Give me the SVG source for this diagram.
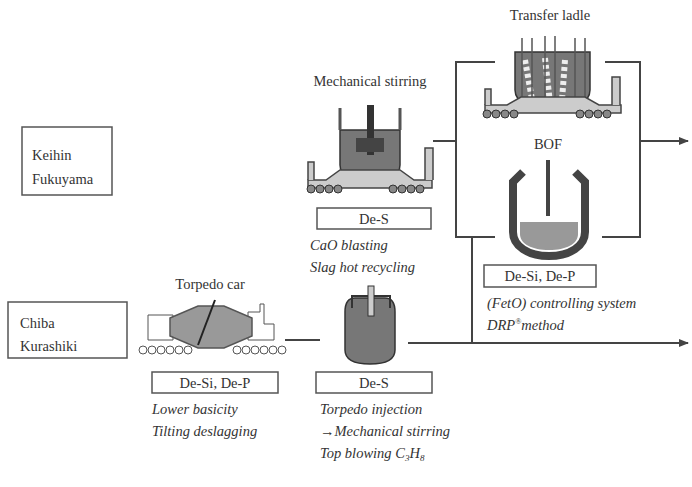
<svg xmlns="http://www.w3.org/2000/svg" width="692" height="487" viewBox="0 0 692 487">
<defs>
<style>
text{font-family:"Liberation Serif",serif;font-size:14.5px;fill:#333}
.i{font-style:italic}
.m{text-anchor:middle}
.box{fill:#fff;stroke:#555;stroke-width:1.5}
.ln{fill:none;stroke:#444;stroke-width:2}
.eq{fill:#777;stroke:#333;stroke-width:1.5}
.lt{fill:#ccc;stroke:#444;stroke-width:1.5}
.wh{fill:#888;stroke:#333;stroke-width:1}
.ow{fill:#fff;stroke:#555;stroke-width:1}
</style>
<marker id="ar" markerWidth="10" markerHeight="8" refX="9" refY="4" orient="auto" markerUnits="userSpaceOnUse"><path d="M0,0L10,4L0,8z" fill="#444"/></marker>
<g id="whl"><circle cx="0" cy="0" r="4" class="wh"/><circle cx="9" cy="0" r="4" class="wh"/><circle cx="18" cy="0" r="4" class="wh"/><circle cx="27" cy="0" r="4" class="wh"/></g>
<g id="owl"><circle cx="0" cy="0" r="4" class="ow"/><circle cx="9" cy="0" r="4" class="ow"/><circle cx="18" cy="0" r="4" class="ow"/><circle cx="27" cy="0" r="4" class="ow"/><circle cx="36" cy="0" r="4" class="ow"/><circle cx="45" cy="0" r="4" class="ow"/></g>
</defs>

<g id="keihin"><rect x="22" y="127" width="90" height="68" class="box"/><text x="32" y="160">Keihin</text><text x="32" y="184">Fukuyama</text></g>
<g id="chiba"><rect x="8" y="302" width="119" height="56" class="box"/><text x="20" y="328">Chiba</text><text x="20" y="351">Kurashiki</text></g>

<g id="torpedo">
<text x="210" y="289" class="m">Torpedo car</text>
<path d="M148,315h25v25h-25z M248,312h12v-8h4v20h10v16h-26z" class="ow"/>
<path d="M170,318l28,-12h26l28,12v18l-28,12h-26l-28,-12z" fill="#999" stroke="#555" stroke-width="1.5"/>
<line x1="215" y1="300" x2="198" y2="345" stroke="#222" stroke-width="2"/>
<use href="#owl" x="143" y="350"/><use href="#owl" x="237" y="350"/>
<rect x="152" y="372" width="126" height="21" class="box"/><text x="215" y="388" class="m">De-Si, De-P</text>
<text x="152" y="414" class="i">Lower basicity</text><text x="152" y="436" class="i">Tilting deslagging</text>
</g>

<g id="ladle-low">
<path d="M345,312c0,-12 5,-14 10,-14h30c5,0 10,2 10,14v38c0,10 -10,14 -25,14s-25,-4 -25,-14z" class="eq"/>
<path d="M352,308v-12h38v12" fill="none" stroke="#333" stroke-width="2"/>
<rect x="368" y="286" width="6" height="30" fill="#ccc" stroke="#333"/>
<rect x="316" y="372" width="116" height="21" class="box"/><text x="374" y="388" class="m">De-S</text>
<text x="320" y="414" class="i">Torpedo injection</text><text x="320" y="436" class="i">→Mechanical stirring</text>
<text x="320" y="458" class="i">Top blowing C<tspan font-size="9" dy="3">3</tspan><tspan dy="-3">H</tspan><tspan font-size="9" dy="3">8</tspan></text>
</g>

<g id="mech">
<text x="370" y="86" class="m">Mechanical stirring</text>
<path d="M340,130h60v35c0,12 -15,18 -30,18s-30,-6 -30,-18z" class="eq"/>
<path d="M340,130v-22M400,130v-22" stroke="#555" stroke-width="3"/>
<rect x="367" y="105" width="7" height="50" fill="#333"/><rect x="356" y="138" width="28" height="14" fill="#444"/>
<path d="M308,180h18l14,-10h60l14,10h18v8h-124z" class="lt"/>
<path d="M308,180v-18h6v18M425,180v-32h8v32" class="lt"/>
<use href="#whl" x="311" y="189"/><use href="#whl" x="393" y="189"/>
<rect x="317" y="208" width="114" height="21" class="box"/><text x="374" y="224" class="m">De-S</text>
<text x="310" y="250" class="i">CaO blasting</text><text x="310" y="272" class="i">Slag hot recycling</text>
</g>

<g id="transfer">
<text x="550" y="20" class="m">Transfer ladle</text>
<path d="M515,52h75v38c0,14 -18,20 -37,20s-38,-6 -38,-20z" class="eq"/>
<path d="M525,60l8,45M545,58l5,45M565,60l-3,40" stroke="#eee" stroke-width="6" stroke-dasharray="4 3"/>
<path d="M522,38v60M532,38v60M545,36v70M555,36v70M575,38v60M585,38v60" stroke="#555" stroke-width="1.5"/>
<path d="M485,105h22l14,-8h64l14,8h22v8h-136z" class="lt"/>
<path d="M485,105v-16h6v16M612,105v-28h8v28" class="lt"/>
<use href="#whl" x="487" y="114"/><use href="#whl" x="580" y="114"/>
</g>

<g id="bof">
<text x="548" y="149" class="m">BOF</text>
<path d="M523,172l-10,10v50c0,14 15,24 36,24s36,-10 36,-24v-50l-10,-10" fill="none" stroke="#444" stroke-width="8"/>
<path d="M520,222h58v12c0,10 -12,16 -29,16s-29,-6 -29,-16z" fill="#999"/>
<rect x="546" y="160" width="4" height="56" fill="#444"/>
<rect x="484" y="265" width="112" height="22" class="box"/><text x="540" y="281" class="m">De-Si, De-P</text>
<text x="487" y="308" class="i">(FetO) controlling system</text>
<text x="487" y="330" class="i">DRP<tspan font-size="8" dy="-6">®</tspan><tspan dy="6">method</tspan></text>
</g>

<g id="connectors">
<path d="M285,340h35" class="ln"/>
<path d="M408,343h280" class="ln" marker-end="url(#ar)"/>
<path d="M472,343v-106" class="ln"/>
<path d="M433,141h23M495,62h-39v175h39" class="ln"/>
<path d="M605,62h35v175h-38" class="ln"/>
<path d="M640,141h48" class="ln" marker-end="url(#ar)"/>
</g>
</svg>
